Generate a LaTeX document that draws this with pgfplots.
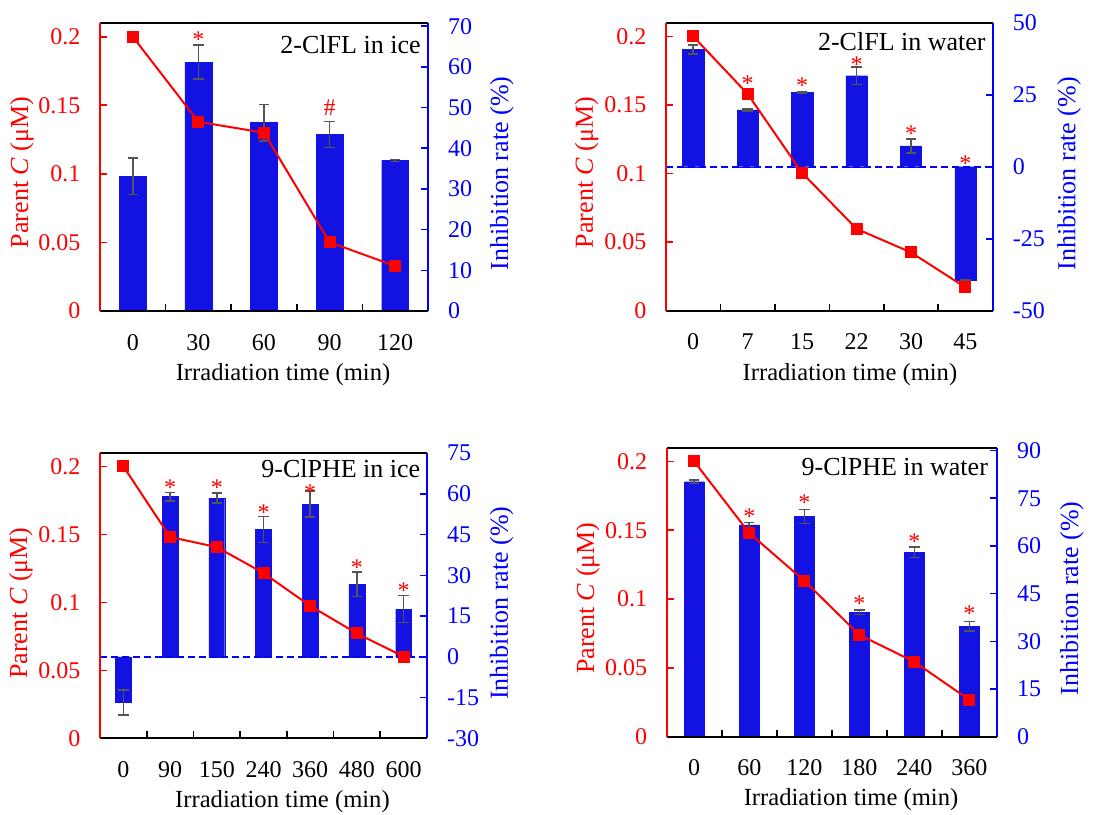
\documentclass[border=0pt]{standalone}
\usepackage{fontspec}
\setmainfont{Liberation Serif}
\usepackage{pgfplots}
\pgfplotsset{compat=1.18}
\definecolor{barblue}{RGB}{18,18,226}
\definecolor{axblue}{RGB}{0,0,255}
\definecolor{errgray}{RGB}{85,85,85}
\tikzset{paneltitle/.style={anchor=north east, inner sep=0pt, font=\fontsize{13}{13}\selectfont}}
\pgfplotsset{
  base/.style={scale only axis, clip=false, anchor=south west, tick align=inside,
    major tick length=3.5pt, minor tick length=3.5pt,
    ticklabel style={font=\fontsize{12}{12}\selectfont}},
  leftax/.style={base, axis x line*=box, axis y line*=left, xtick pos=bottom,
    x axis line style={-, black, line width=1pt}, y axis line style={-, red, line width=1pt},
    ytick style={red, line width=0.8pt}, major x tick style={draw=none},
    minor x tick style={black, line width=0.8pt},
    yticklabel style={red, xshift=-6.3pt}, xticklabel style={black, yshift=-8pt},
    ymin=0, ymax=0.21, ytick={0,0.05,0.1,0.15,0.2}, yticklabels={0,0.05,0.1,0.15,0.2},
    ylabel={Parent \textit{C} (μM)}, xlabel={Irradiation time (min)},
    ylabel style={red, font=\fontsize{13}{13}\selectfont, anchor=center},
    xlabel style={black, font=\fontsize{12.3}{12.3}\selectfont, anchor=center}},
  rightax/.style={base, axis x line=none, axis y line*=right, xtick=\empty,
    y axis line style={-, axblue, line width=1pt}, ytick style={axblue, line width=0.8pt},
    yticklabel style={axblue, xshift=6.5pt}, ylabel={Inhibition rate (\%)},
    ylabel style={axblue, font=\fontsize{13}{13}\selectfont, anchor=center}},
  barplot/.style={ybar, bar width=#1, fill=barblue, draw=barblue, line width=0.2pt,
    error bars/.cd, y dir=both, y explicit,
    error bar style={draw=errgray, line width=0.8pt},
    error mark options={rotate=90, draw=errgray, line width=0.8pt, mark size=2.6pt}},
  lineplot/.style={red, line width=1pt, mark=square*, mark size=2.5pt, mark options={fill=red, draw=red, solid}},
  starplot/.style={draw=none, nodes near coords, point meta=explicit symbolic,
    every node near coord/.append style={red, anchor=base, inner sep=0pt, font=\fontsize{12}{12}\selectfont}},
  zeroline/.style={axblue, line width=1pt, dash pattern=on 3.5pt off 2pt}
}
\begin{document}
\begin{tikzpicture}
\useasboundingbox (0,0) rectangle (558.5pt,-407pt);
% ---------- Panel 1: 2-ClFL in ice ----------
\begin{axis}[rightax, at={(50pt,-155.5pt)}, width=164pt, height=144pt,
  xmin=-0.5, xmax=4.5, ymin=0, ymax=70.8,
  ytick={0,10,20,30,40,50,60,70}, yticklabels={0,10,20,30,40,50,60,70},
  ylabel style={at={(axis description cs:1.225,0.478)}}]
\addplot[barplot=0.41] coordinates {(0,33.1) +- (0,4.5) (1,61.2) +- (0,4.2) (2,46.3) +- (0,4.5) (3,43.4) +- (0,3.2) (4,37.0) +- (0,0.2)};
\addplot[starplot] coordinates {(1,64.8)[*] (3,48.1)[\#]};
\end{axis}
\begin{axis}[leftax, at={(50pt,-155.5pt)}, width=164pt, height=144pt,
  xmin=-0.5, xmax=4.5, xtick={0,1,2,3,4}, xticklabels={0,30,60,90,120},
  minor xtick={0.5,1.5,2.5,3.5},
  ylabel style={at={(axis description cs:-0.238,0.481)}},
  xlabel style={at={(axis description cs:0.558,-0.222)}}]
\addplot[lineplot] coordinates {(0,0.2) (1,0.138) (2,0.130) (3,0.0502) (4,0.0328)};
\node[paneltitle, xshift=-3.5pt, yshift=-6pt] at (rel axis cs:1,1) {2-ClFL in ice};
\end{axis}
% ---------- Panel 2: 2-ClFL in water ----------
\begin{axis}[rightax, at={(333pt,-155.35pt)}, width=163.35pt, height=144pt,
  xmin=-0.5, xmax=5.5, ymin=-50, ymax=50,
  ytick={-50,-25,0,25,50}, yticklabels={-50,-25,0,25,50},
  ylabel style={at={(axis description cs:1.234,0.475)}}]
\addplot[barplot=0.39] coordinates {(0,40.7) +- (0,1.6) (1,19.7) +- (0,0.3) (2,25.8) +- (0,0.2) (3,31.6) +- (0,3.0) (4,7.2) +- (0,2.5) (5,-39.4) +- (0,0)};
\addplot[zeroline] coordinates {(-0.5,0) (5.5,0)};
\addplot[starplot] coordinates {(1,26.0)[*] (2,25.5)[*] (3,32.6)[*] (4,8.7)[*] (5,-1.7)[*]};
\end{axis}
\begin{axis}[leftax, at={(333pt,-155.35pt)}, width=163.35pt, height=144pt,
  xmin=-0.5, xmax=5.5, xtick={0,1,2,3,4,5}, xticklabels={0,7,15,22,30,45},
  minor xtick={0.5,1.5,2.5,3.5,4.5},
  ylabel style={at={(axis description cs:-0.243,0.48)}},
  xlabel style={at={(axis description cs:0.563,-0.223)}}]
\addplot[lineplot] coordinates {(0,0.2) (1,0.158) (2,0.1005) (3,0.0597) (4,0.0425) (5,0.017)};
\node[paneltitle, xshift=-3.35pt, yshift=-4.5pt] at (rel axis cs:1,1) {2-ClFL in water};
\end{axis}
% ---------- Panel 3: 9-ClPHE in ice ----------
\begin{axis}[rightax, at={(50pt,-369.15pt)}, width=163.5pt, height=142.8pt,
  xmin=-0.5, xmax=6.5, ymin=-30, ymax=75.2,
  ytick={-30,-15,0,15,30,45,60,75}, yticklabels={-30,-15,0,15,30,45,60,75},
  ylabel style={at={(axis description cs:1.228,0.473)}}]
\addplot[barplot=0.34] coordinates {(0,-16.8) +- (0,4.6) (1,59.0) +- (0,1.5) (2,58.5) +- (0,1.9) (3,46.9) +- (0,4.8) (4,56.3) +- (0,4.7) (5,26.8) +- (0,4.5) (6,17.6) +- (0,5.0)};
\addplot[zeroline] coordinates {(-0.5,0) (6.5,0)};
\addplot[starplot] coordinates {(1,59.4)[*] (2,59.4)[*] (3,50.3)[*] (4,57.6)[*] (5,29.8)[*] (6,21.4)[*]};
\end{axis}
\begin{axis}[leftax, at={(50pt,-369.15pt)}, width=163.5pt, height=142.8pt,
  xmin=-0.5, xmax=6.5, xtick={0,1,2,3,4,5,6}, xticklabels={0,90,150,240,360,480,600},
  minor xtick={0.5,1.5,2.5,3.5,4.5,5.5},
  ylabel style={at={(axis description cs:-0.242,0.473)}},
  xlabel style={at={(axis description cs:0.558,-0.222)}}]
\addplot[lineplot] coordinates {(0,0.2) (1,0.148) (2,0.1406) (3,0.1215) (4,0.0974) (5,0.0771) (6,0.0601)};
\node[paneltitle, xshift=-3.15pt, yshift=-3pt] at (rel axis cs:1,1) {9-ClPHE in ice};
\end{axis}
% ---------- Panel 4: 9-ClPHE in water ----------
\begin{axis}[rightax, at={(333.35pt,-368.35pt)}, width=165.15pt, height=144.5pt,
  xmin=-0.5, xmax=5.5, ymin=0, ymax=90.9,
  ytick={0,15,30,45,60,75,90}, yticklabels={0,15,30,45,60,75,90},
  ylabel style={at={(axis description cs:1.227,0.479)}}]
\addplot[barplot=0.36] coordinates {(0,80.2) +- (0,0.5) (1,66.6) +- (0,0.8) (2,69.3) +- (0,2.2) (3,39.2) +- (0,0.7) (4,58.0) +- (0,1.6) (5,34.7) +- (0,1.5)};
\addplot[starplot] coordinates {(1,66.6)[*] (2,71.0)[*] (3,39.3)[*] (4,59.0)[*] (5,36.1)[*]};
\end{axis}
\begin{axis}[leftax, at={(333.35pt,-368.35pt)}, width=165.15pt, height=144.5pt,
  xmin=-0.5, xmax=5.5, xtick={0,1,2,3,4,5}, xticklabels={0,60,120,180,240,360},
  minor xtick={0.5,1.5,2.5,3.5,4.5},
  ylabel style={at={(axis description cs:-0.239,0.479)}},
  xlabel style={at={(axis description cs:0.558,-0.219)}}]
\addplot[lineplot] coordinates {(0,0.2) (1,0.148) (2,0.1133) (3,0.074) (4,0.0544) (5,0.0267)};
\node[paneltitle, xshift=-4.35pt, yshift=-4.5pt] at (rel axis cs:1,1) {9-ClPHE in water};
\end{axis}
\end{tikzpicture}
\end{document}
